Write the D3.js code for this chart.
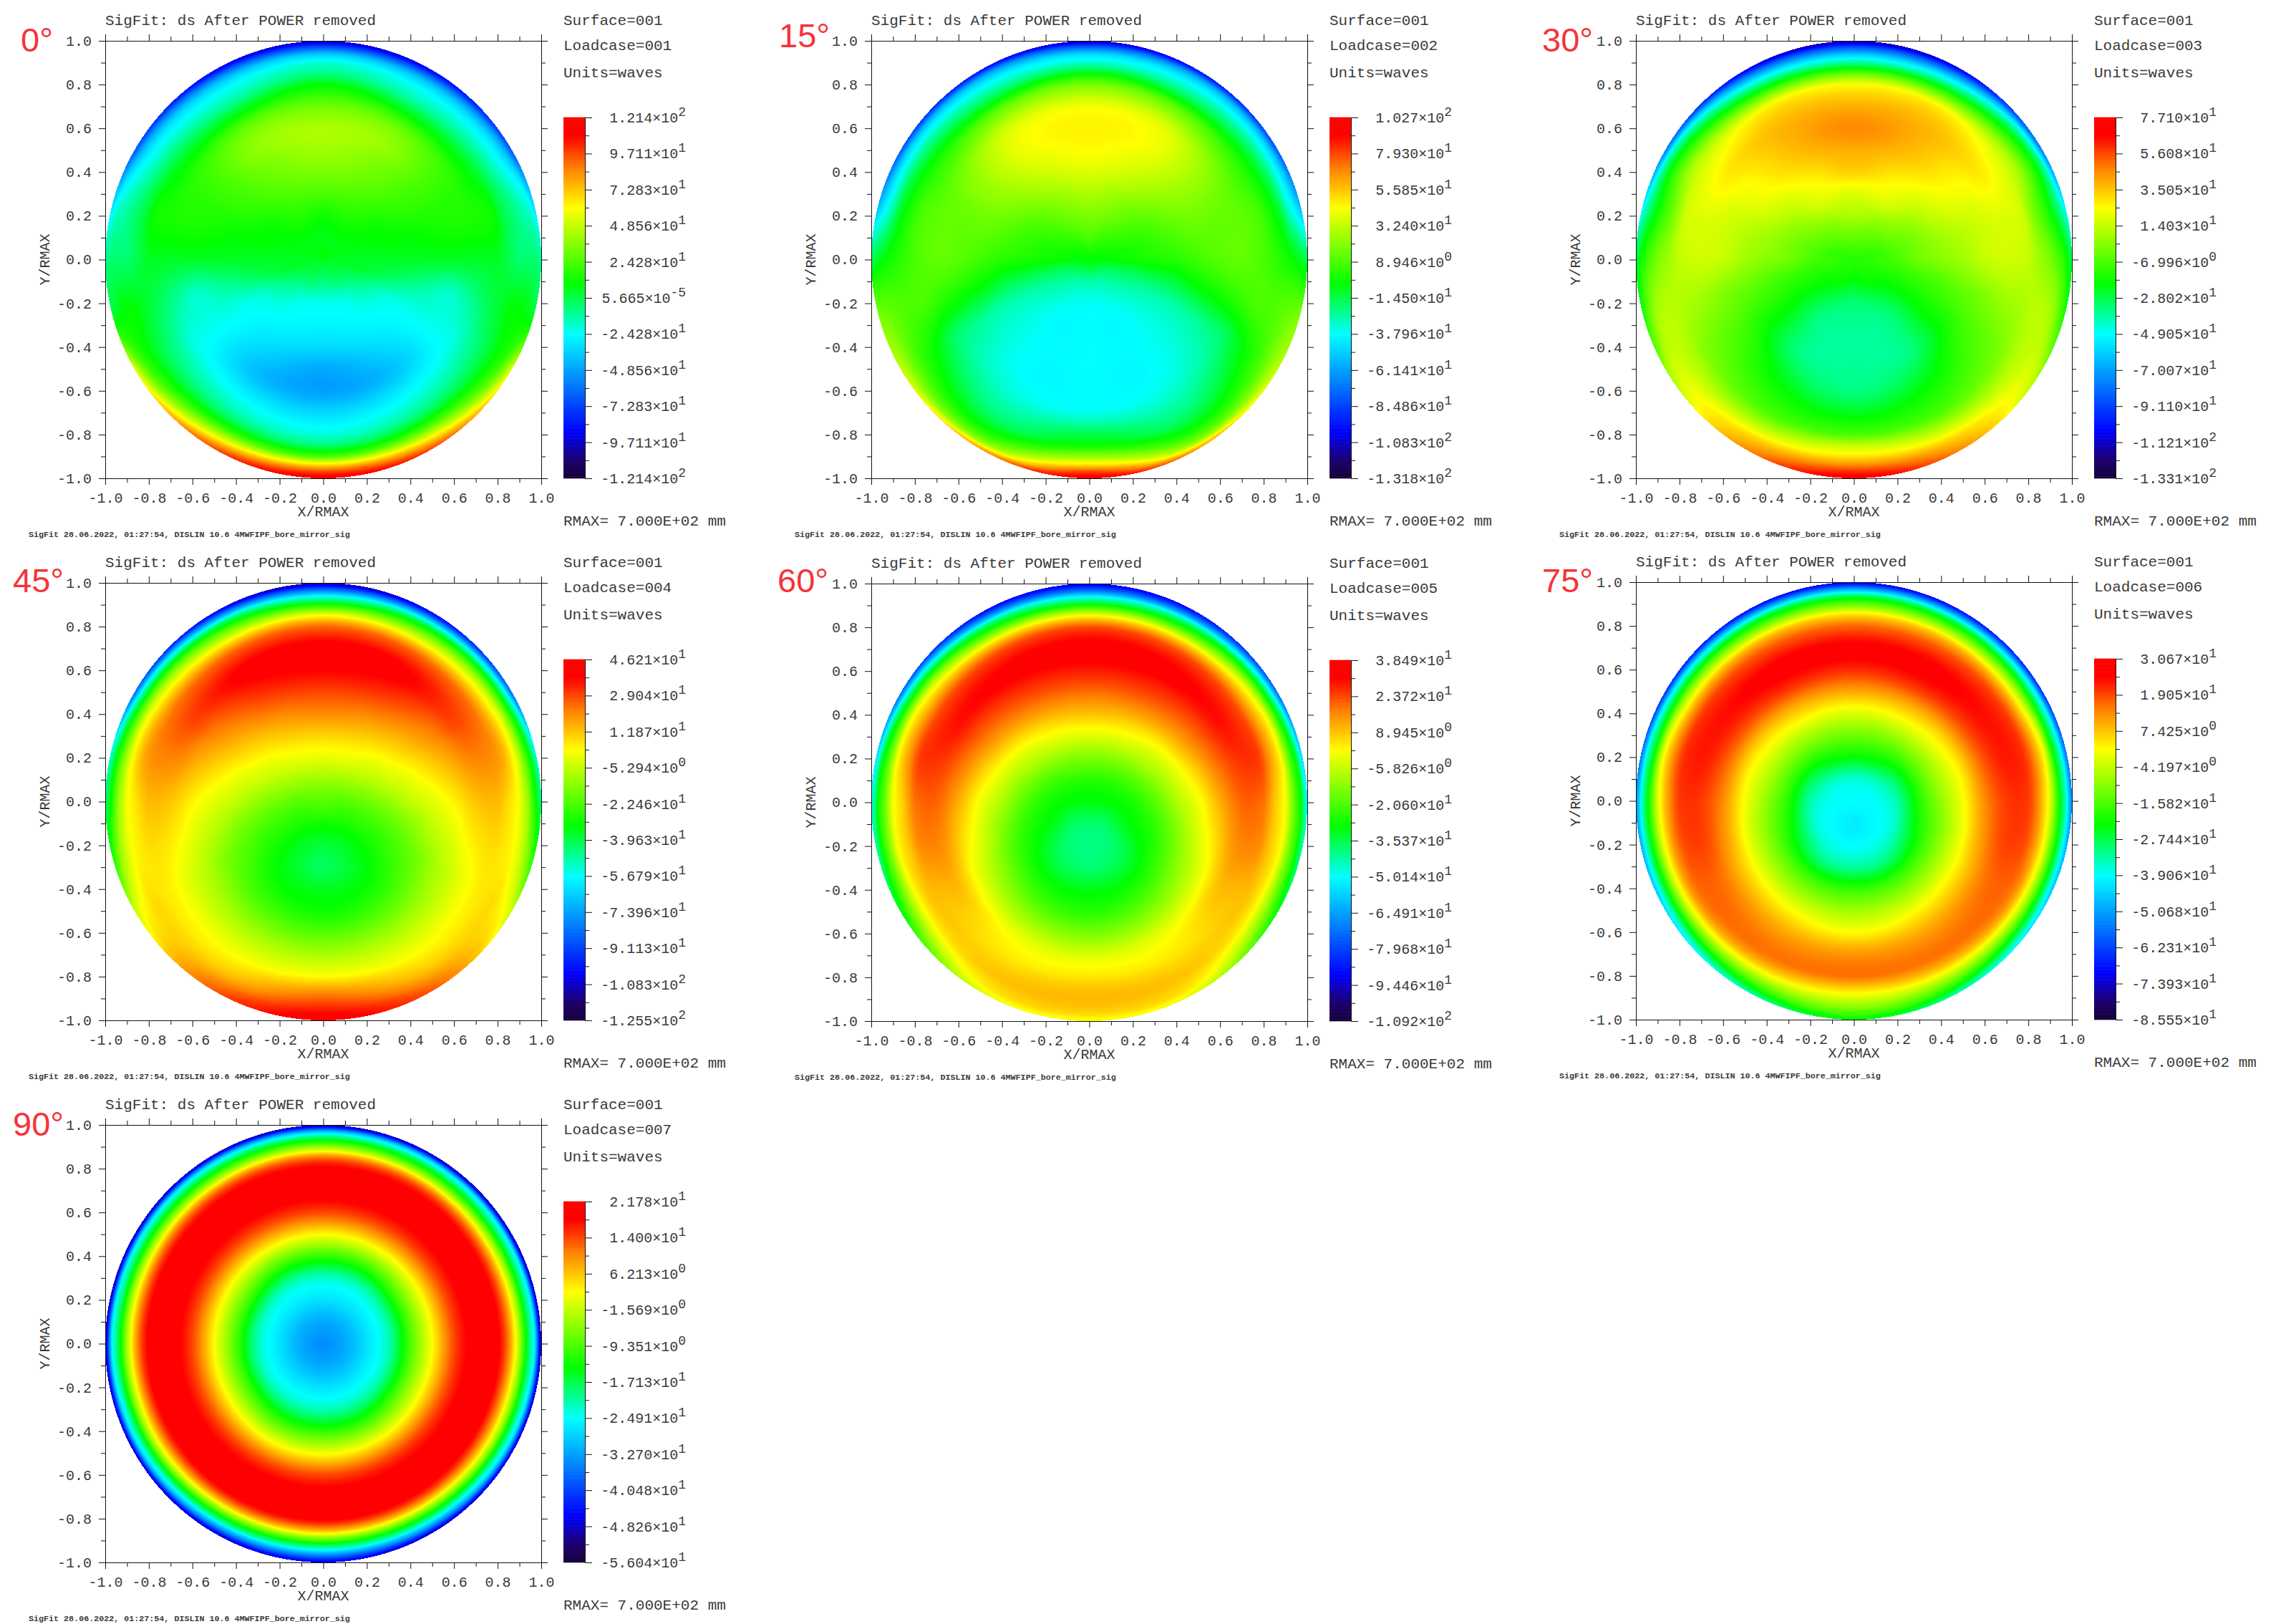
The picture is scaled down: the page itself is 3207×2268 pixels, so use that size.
<!DOCTYPE html>
<html>
<head>
<meta charset="utf-8">
<style>
  body { margin: 0; background: #fff; }
  text { font-family: "Liberation Mono", monospace; fill: #3a3a3a; }
  .tick text { fill: #3a3a3a; }
  .tick line, .domain { stroke: #111; }
</style>
<script src="https://cdn.jsdelivr.net/npm/d3@7"></script>
</head>
<body>
<div id="chart"></div>
<script>
const width = 3207;
const height = 2268;

const angleLabels = ["0°", "15°", "30°", "45°", "60°", "75°", "90°"];
const loadcases = ["001", "002", "003", "004", "005", "006", "007"];

// colour bar labels, top to bottom, mantissa^exponent
const barTicks = [
  ["1.214×10^2", "9.711×10^1", "7.283×10^1", "4.856×10^1", "2.428×10^1", "5.665×10^-5", "-2.428×10^1", "-4.856×10^1", "-7.283×10^1", "-9.711×10^1", "-1.214×10^2"],
  ["1.027×10^2", "7.930×10^1", "5.585×10^1", "3.240×10^1", "8.946×10^0", "-1.450×10^1", "-3.796×10^1", "-6.141×10^1", "-8.486×10^1", "-1.083×10^2", "-1.318×10^2"],
  ["7.710×10^1", "5.608×10^1", "3.505×10^1", "1.403×10^1", "-6.996×10^0", "-2.802×10^1", "-4.905×10^1", "-7.007×10^1", "-9.110×10^1", "-1.121×10^2", "-1.331×10^2"],
  ["4.621×10^1", "2.904×10^1", "1.187×10^1", "-5.294×10^0", "-2.246×10^1", "-3.963×10^1", "-5.679×10^1", "-7.396×10^1", "-9.113×10^1", "-1.083×10^2", "-1.255×10^2"],
  ["3.849×10^1", "2.372×10^1", "8.945×10^0", "-5.826×10^0", "-2.060×10^1", "-3.537×10^1", "-5.014×10^1", "-6.491×10^1", "-7.968×10^1", "-9.446×10^1", "-1.092×10^2"],
  ["3.067×10^1", "1.905×10^1", "7.425×10^0", "-4.197×10^0", "-1.582×10^1", "-2.744×10^1", "-3.906×10^1", "-5.068×10^1", "-6.231×10^1", "-7.393×10^1", "-8.555×10^1"],
  ["2.178×10^1", "1.400×10^1", "6.213×10^0", "-1.569×10^0", "-9.351×10^0", "-1.713×10^1", "-2.491×10^1", "-3.270×10^1", "-4.048×10^1", "-4.826×10^1", "-5.604×10^1"],
];

// sample positions of the mirror maps: radius / RMAX, and degrees from +Y round to -Y
const fieldRadii = [0, 0.1, 0.2, 0.3, 0.4, 0.5, 0.6, 0.7, 0.8, 0.85, 0.9, 0.94, 0.97, 1];
const fieldAngles = [0, 30, 60, 75, 90, 105, 120, 150, 180];

// colour level (percent up the colour bar), one row per angle
const field0 = [
  [54, 53, 55, 60, 64, 67, 68, 63, 54, 47, 42, 34, 22, 10],
  [54, 53, 56, 59, 62, 64, 66, 62, 50, 44, 40, 34, 24, 12],
  [53, 53, 54, 55, 57, 58, 58, 57, 52, 47, 42, 38, 32, 22],
  [53, 53, 53, 54, 54, 55, 56, 56, 55, 50, 47, 44, 42, 36],
  [52, 52, 52, 52, 52, 52, 52, 52, 52, 50, 48, 48, 48, 46],
  [52, 52, 51, 49, 47, 45, 43, 46, 50, 52, 54, 54, 53, 52],
  [52, 50, 47, 43, 41, 41, 41, 42, 47, 50, 54, 58, 64, 72],
  [52, 49, 42, 40, 38, 35, 33, 38, 44, 50, 60, 72, 82, 90],
  [52, 47, 41, 39, 36, 31, 30, 36, 42, 48, 60, 78, 90, 97],
];
const field1 = [
  [54, 60, 64, 68, 72, 75, 76, 74, 64, 54, 43, 36, 24, 10],
  [54, 58, 62, 65, 69, 72, 74, 72, 62, 52, 44, 38, 30, 14],
  [54, 56, 58, 60, 63, 65, 65, 63, 58, 54, 48, 41, 34, 22],
  [54, 55, 56, 58, 60, 62, 62, 62, 60, 56, 51, 43, 38, 32],
  [54, 54, 55, 56, 57, 59, 61, 62, 60, 58, 56, 54, 52, 50],
  [54, 51, 50, 50, 50.5, 53, 55, 57.5, 60, 60, 61, 62, 63, 64],
  [54, 48.5, 46, 44.5, 44, 44.5, 46, 48, 53, 56, 59, 63, 67, 70],
  [54, 45.5, 42, 40, 40, 40, 40, 42, 46, 49, 54, 60, 68, 84],
  [54, 45, 40.5, 40, 40, 40, 40, 41, 50, 55, 66, 78, 90, 97],
];
const field2 = [
  [57, 62, 68, 72, 79, 82, 85, 82, 75, 62, 46, 34, 22, 8],
  [57, 61, 66, 72, 75, 79, 81, 81, 76, 64, 50, 38, 26, 12],
  [57, 59, 63, 66, 70, 73, 74, 76, 72, 68, 60, 52, 42, 26],
  [57, 58, 61, 64, 67, 69, 71, 72, 71, 64, 58, 52, 46, 38],
  [57, 58, 60, 63, 65, 67, 70, 71, 70, 67, 64, 60, 56, 50],
  [57, 57.5, 57.5, 58.5, 60, 62, 64, 66.5, 68, 69, 69, 67, 62, 56],
  [57, 56, 55, 55, 56, 57, 60, 62, 65, 68, 70, 71, 70, 66],
  [57, 55, 50, 47, 46.8, 47, 51, 55.5, 60, 66, 73, 79, 82, 85],
  [57, 53, 47.5, 46, 45.5, 46, 47, 52.5, 60, 70, 77, 85, 92, 97],
];
const field3 = [
  [61, 67, 73, 78.5, 85, 90, 95, 97, 88, 75, 56, 40, 24, 8],
  [61, 66, 72, 77, 82.3, 88, 93, 96, 88, 76, 62, 48, 30, 12],
  [61, 64, 68.6, 72.5, 77, 81.5, 86, 90, 87, 80, 70, 56, 42, 24],
  [61, 62.5, 65.8, 70, 73, 77, 81, 85, 85, 82, 74, 62, 52, 40],
  [61, 61, 63, 65.8, 69.8, 72.5, 76, 80, 81, 78, 74, 66, 56, 48],
  [61, 59.5, 60, 62, 64.5, 68.6, 72, 76, 78, 77, 75, 70, 64, 56],
  [61, 58, 57.5, 58, 60.5, 63.5, 68, 72, 76, 77, 78, 76, 74, 70],
  [61, 56, 53, 52.6, 54, 57.6, 63, 69, 74, 77, 80, 84, 87, 89],
  [61, 55, 51, 49, 52.5, 55, 61, 68, 75, 82, 88, 92, 95, 96],
];
const field4 = [
  [53, 57, 64, 72, 80, 87, 93, 97, 90, 76, 56, 40, 24, 12],
  [53, 56.5, 63, 70.7, 78, 86, 92, 96, 90, 78, 60, 46, 28, 14],
  [53, 55.3, 59.8, 67, 73.5, 82, 89, 94, 90, 82, 72, 56, 42, 24],
  [53, 54.5, 58, 64, 71, 78, 86, 91, 91, 84, 75, 60, 50, 34],
  [53, 54, 56, 61, 68, 74, 82, 88, 87, 80, 74, 62, 54, 40],
  [53, 53, 54.5, 58, 64, 71, 78, 85, 85, 80, 75, 64, 56, 46],
  [53, 51, 53, 55.3, 60, 67, 73.5, 81, 81, 80, 75, 67, 60, 54],
  [53, 48.7, 48, 50, 54.5, 60, 67, 74, 77, 79, 80, 78, 76, 72],
  [53, 48, 47, 48, 53, 57, 64, 72, 77, 80, 81, 80, 78, 74],
];
const field5 = [
  [40, 42.5, 54, 63, 72, 82.5, 92, 96, 88, 78, 62, 48, 30, 12],
  [40, 42, 52.6, 62, 71.5, 81.5, 92, 96, 89, 80, 64, 50, 32, 14],
  [40, 41, 48.5, 59.7, 69.5, 78, 89, 94, 91, 82, 68, 52, 38, 18],
  [40, 40.8, 46.5, 58.3, 68, 75.8, 87, 93, 92, 85, 73, 54, 42, 24],
  [40, 40.5, 45, 56.8, 66, 74.4, 85, 91, 91, 84, 72, 56, 44, 28],
  [40, 40, 43.5, 55, 63.7, 72.5, 83, 90, 90, 84, 72, 57, 45, 32],
  [40, 39.8, 42, 52, 61.7, 71, 80, 87, 88, 84, 72, 58, 46, 36],
  [40, 39, 40.6, 46.5, 58.5, 68.3, 77, 84, 87, 82, 72, 62, 54, 44],
  [40, 38, 40, 45.5, 57.6, 67, 75, 84, 87, 80, 72, 66, 60, 54],
];
const field6 = [
  [28, 31, 37, 43, 58, 75, 90, 97, 96, 87, 66, 50, 33, 8],
  [28, 31, 37, 43, 58, 75, 90, 97, 96, 87, 66, 50, 35, 8],
  [28, 31, 37, 44, 60, 75, 90, 97, 96, 86, 67, 50, 37, 8],
  [28, 31, 37, 44, 60, 75, 90, 97, 96, 86, 68, 50, 38, 8],
  [28, 31, 37, 44, 60, 75, 90, 97, 96, 86, 68, 50, 38, 8],
  [28, 31, 37, 44, 60, 75, 90, 97, 96, 85, 67, 49, 36, 9],
  [28, 31, 37, 44, 60, 75, 90, 97, 96, 85, 67, 48, 35, 10],
  [28, 31, 37, 44, 58, 74, 90, 97, 96, 84, 62, 44, 28, 10],
  [28, 31, 37, 44, 58, 74, 90, 97, 96, 83, 60, 42, 26, 12],
];
const fields = [field0, field1, field2, field3, field4, field5, field6];

// page layout, kept apart from the data above
const panelLeft = [147, 1217, 2285, 147, 1217, 2285, 147];
const panelTop = [57, 57, 57, 814, 815, 813, 1571];
const labelLeft = [29, 1088, 2154, 18, 1086, 2154, 18];
const labelBase = [72, 66, 72, 827, 827, 827, 1586];
const plotW = 609;
const plotH = 611;

const levelStops = [0, 5, 13, 40, 54, 75, 86, 95, 100];
const levelColors = ["#140038", "#1e006e", "#0000ff", "#00ffff", "#00ff00", "#ffff00", "#ff8000", "#ff0000", "#ff0000"];

const colorScale = d3.scaleLinear().domain(levelStops).range(levelColors).clamp(true);

// lookup table so the per pixel loop does not parse colour strings
const colorLut = d3.range(0, 1001).map((i) => {
  const c = d3.color(colorScale(i / 10));
  return [c.r, c.g, c.b];
});

const radiusIndex = d3.scaleLinear().domain(fieldRadii).range(d3.range(fieldRadii.length)).clamp(true);
const angleIndex = d3.scaleLinear().domain(fieldAngles).range(d3.range(fieldAngles.length)).clamp(true);

function catmull(a, b, c, d, t) {
  return b + 0.5 * t * (c - a + t * (2 * a - 5 * b + 4 * c - d + t * (3 * (b - c) + d - a)));
}

function sampleField(field, fr, fa) {
  const nr = fieldRadii.length;
  const na = fieldAngles.length;
  const ir = Math.min(Math.floor(fr), nr - 2);
  const ia = Math.min(Math.floor(fa), na - 2);
  const tr = fr - ir;
  const ta = fa - ia;
  const cols = [-1, 0, 1, 2].map((k) => {
    // mirror at the Y axis, the maps are left/right symmetric
    let a = ia + k;
    if (a < 0) a = -a;
    if (a > na - 1) a = 2 * (na - 1) - a;
    const row = field[a];
    const r0 = row[Math.max(ir - 1, 0)];
    const r3 = row[Math.min(ir + 2, nr - 1)];
    return catmull(r0, row[ir], row[ir + 1], r3, tr);
  });
  return catmull(cols[0], cols[1], cols[2], cols[3], ta);
}

const svg = d3
  .select("#chart")
  .append("svg")
  .attr("width", width)
  .attr("height", height)
  .style("display", "block");

fields.forEach((field, i) => drawPanel(field, i));

function drawPanel(field, i) {
  const g = svg.append("g").attr("transform", `translate(${panelLeft[i]},${panelTop[i]})`);

  const xScale = d3.scaleLinear().domain([-1, 1]).range([0, plotW]);
  const yScale = d3.scaleLinear().domain([-1, 1]).range([plotH, 0]);

  // MAP
  const canvas = document.createElement("canvas");
  canvas.width = plotW;
  canvas.height = plotH;
  const ctx = canvas.getContext("2d");
  const img = ctx.createImageData(plotW, plotH);
  for (let py = 0; py < plotH; py++) {
    const y = yScale.invert(py + 0.5);
    for (let px = 0; px < plotW; px++) {
      const x = xScale.invert(px + 0.5);
      const r = Math.hypot(x, y);
      if (r > 1) continue;
      const angle = (Math.atan2(Math.abs(x), y) * 180) / Math.PI;
      const level = sampleField(field, radiusIndex(r), angleIndex(angle));
      const c = colorLut[Math.max(0, Math.min(1000, Math.round(level * 10)))];
      const k = (py * plotW + px) * 4;
      img.data[k] = c[0];
      img.data[k + 1] = c[1];
      img.data[k + 2] = c[2];
      img.data[k + 3] = 255;
    }
  }
  ctx.putImageData(img, 0, 0);
  g.append("image")
    .attr("width", plotW)
    .attr("height", plotH)
    .attr("href", canvas.toDataURL("image/png"));

  // AXES
  const majors = d3.range(-10, 11, 2).map((d) => d / 10);
  const minors = d3.range(-9, 10, 2).map((d) => d / 10);
  const fmt = d3.format(".1f");
  const label = (d) => fmt(d).replace("−", "-");

  const drawAxis = (axis, scale, tr, withText) => {
    [[majors, 9], [minors, 6]].forEach(([vals, size], k) => {
      const a = axis(scale)
        .tickValues(vals)
        .tickSize(size)
        .tickSizeOuter(0)
        .tickPadding(axis === d3.axisBottom ? 11 : 10)
        .tickFormat(withText && k === 0 ? label : "");
      const sel = g.append("g").attr("transform", tr).call(a);
      sel.selectAll("text").style("font-family", '"Liberation Mono", monospace').style("font-size", "20px");
    });
  };
  drawAxis(d3.axisBottom, xScale, `translate(0,${plotH})`, true);
  drawAxis(d3.axisTop, xScale, "translate(0,0)", false);
  drawAxis(d3.axisLeft, yScale, "translate(0,0)", true);
  drawAxis(d3.axisRight, yScale, `translate(${plotW},0)`, false);

  // COLOUR BAR
  const barX = 640;
  const barW = 30;
  const barTop = 107;
  const barBottom = 611;
  const barScale = d3.scaleLinear().domain([0, 100]).range([barBottom, barTop]);
  const barLevels = d3.range(0, 100, 0.5);
  const barStep = barScale(0) - barScale(0.5);

  g.append("g")
    .selectAll("rect")
    .data(barLevels)
    .join("rect")
    .attr("x", barX)
    .attr("y", (d) => barScale(d) - barStep - 0.3)
    .attr("width", barW)
    .attr("height", barStep + 0.6)
    .attr("fill", (d) => colorScale(d + 0.25));

  const barMajors = d3.range(0, 101, 10);
  const barMinors = d3.range(5, 100, 10);
  [[barMajors, 10], [barMinors, 6]].forEach(([vals, size]) => {
    g.append("g")
      .attr("transform", `translate(${barX + barW},0)`)
      .call(d3.axisRight(barScale).tickValues(vals).tickSize(size).tickSizeOuter(0).tickFormat(""));
  });

  const barText = g
    .selectAll("text.bar-label")
    .data(barTicks[i])
    .join("text")
    .attr("class", "bar-label")
    .attr("x", barX + 171)
    .attr("y", (d, k) => barScale(100 - k * 10) + 7)
    .attr("text-anchor", "end")
    .style("font-size", "20px");
  barText.append("tspan").text((d) => d.split("^")[0]);
  barText
    .append("tspan")
    .attr("dy", -9)
    .style("font-size", "18px")
    .text((d) => d.split("^")[1]);

  // TEXT
  const addText = (txt, x, y, size) =>
    g.append("text").text(txt).attr("x", x).attr("y", y).style("font-size", `${size}px`);

  addText("SigFit: ds After POWER removed", 0, -22, 21);
  addText("Surface=001", barX, -22, 21);
  addText(`Loadcase=${loadcases[i]}`, barX, 13, 21);
  addText("Units=waves", barX, 51, 21);
  addText("RMAX= 7.000E+02 mm", barX, 677, 21);
  addText("SigFit   28.06.2022, 01:27:54, DISLIN 10.6 4MWFIPF_bore_mirror_sig", -107, 693, 11.7)
    .style("font-weight", "bold");

  g.append("text")
    .text("X/RMAX")
    .attr("x", plotW / 2)
    .attr("y", 664)
    .attr("text-anchor", "middle")
    .style("font-size", "20px");

  g.append("text")
    .text("Y/RMAX")
    .attr("transform", `translate(-78,${plotH / 2}) rotate(-90)`)
    .attr("text-anchor", "middle")
    .style("font-size", "20px");

  svg
    .append("text")
    .text(angleLabels[i])
    .attr("x", labelLeft[i])
    .attr("y", labelBase[i])
    .style("font-family", '"Liberation Sans", sans-serif')
    .style("font-size", "47px")
    .style("fill", "#f5333a");
}
</script>
</body>
</html>
